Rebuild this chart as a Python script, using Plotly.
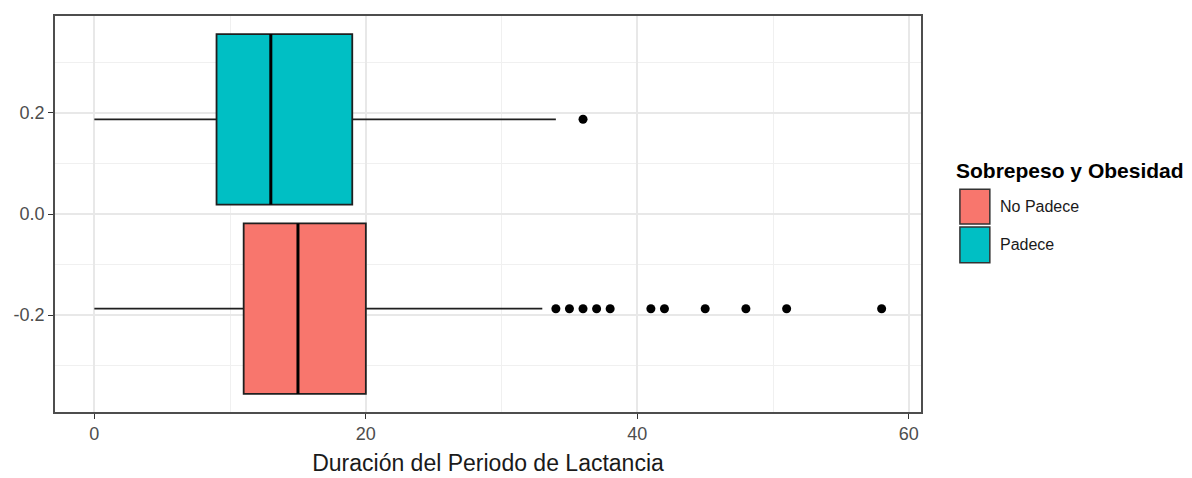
import plotly.graph_objects as go

# ---- data ----
groups = ["Padece", "No Padece"]
positions = [0.1875, -0.1875]
colors = ["#00BFC4", "#F8766D"]
lower_fence = [0, 0]
q1 = [9, 11]
median = [13, 15]
q3 = [19, 20]
upper_fence = [34, 33]
outliers_padece = [36]
outliers_no_padece = [34, 35, 36, 37, 38, 41, 42, 45, 48, 51, 58]
outliers = [outliers_padece, outliers_no_padece]
box_width = 0.3375

x_ticks = [0, 20, 40, 60]
x_minor = [10, 30, 50]
y_ticks = [-0.2, 0.0, 0.2]
y_tick_text = ["-0.2", "0.0", "0.2"]
y_minor = [-0.3, -0.1, 0.1, 0.3]

FONT = "Liberation Sans, Arial, sans-serif"
LINE = "#1f1f1f"

fig = go.Figure()
for i in range(2):
    fig.add_trace(go.Box(
        y=[positions[i]], orientation="h",
        q1=[q1[i]], median=[median[i]], q3=[q3[i]],
        lowerfence=[lower_fence[i]], upperfence=[upper_fence[i]],
        width=box_width, whiskerwidth=0,
        fillcolor=colors[i], line=dict(color=LINE, width=1.8),
        boxpoints=False, showlegend=False, name=groups[i], hoverinfo="skip",
    ))
    # thicker median line (ggplot style)
    fig.add_trace(go.Scatter(
        x=[median[i], median[i]],
        y=[positions[i] - box_width / 2, positions[i] + box_width / 2],
        mode="lines", line=dict(color="#000000", width=3),
        showlegend=False, hoverinfo="skip",
    ))
    fig.add_trace(go.Scatter(
        x=outliers[i], y=[positions[i]] * len(outliers[i]),
        mode="markers", marker=dict(color="#000000", size=9),
        showlegend=False, hoverinfo="skip",
    ))

# page geometry (figure is drawn 8px in from the page corner)
OFF = 8
L, R, T, B = 53, 921, 14, 412
W, H = 1184, 470


def px_x(p):
    return (p - L) / (R - L)


def px_y(p):
    return (B - p) / (B - T)


# manual legend (ggplot style)
legend_items = [("No Padece", "#F8766D", 188, 223), ("Padece", "#00BFC4", 226, 262)]
for label, col, y0, y1 in legend_items:
    fig.add_shape(type="rect", xref="paper", yref="paper",
                  x0=px_x(960), x1=px_x(990), y0=px_y(y1), y1=px_y(y0),
                  fillcolor=col, line=dict(color="#333333", width=1.5))
    fig.add_annotation(xref="paper", yref="paper", x=px_x(998), y=px_y((y0 + y1) / 2),
                       text=label, showarrow=False, xanchor="left", yanchor="middle",
                       font=dict(family=FONT, size=16, color="#1a1a1a"))
fig.add_annotation(xref="paper", yref="paper", x=px_x(954), y=px_y(169),
                   text="<b>Sobrepeso y Obesidad</b>", showarrow=False,
                   xanchor="left", yanchor="middle",
                   font=dict(family=FONT, size=21, color="#000000"))

fig.update_layout(
    width=W, height=H,
    margin=dict(l=L - OFF, r=W - (R - OFF), t=T - OFF, b=H - (B - OFF)),
    paper_bgcolor="white", plot_bgcolor="white",
    boxmode="overlay",
    font=dict(family=FONT),
)
fig.update_xaxes(
    range=[-2.9, 60.9], tickvals=x_ticks,
    showgrid=True, gridcolor="#E8E8E8", gridwidth=1.5,
    minor=dict(tickvals=x_minor, showgrid=True, gridcolor="#F0F0F0", gridwidth=1, ticks=""),
    zeroline=False, showline=True, mirror=True, linecolor="#4D4D4D", linewidth=1.5,
    ticks="outside", ticklen=5, tickcolor="#333333", tickwidth=1.2,
    tickfont=dict(family=FONT, size=18, color="#4D4D4D"),
    title=dict(text="Duración del Periodo de Lactancia",
               font=dict(family=FONT, size=23, color="#1a1a1a"), standoff=12),
)
fig.update_yaxes(
    range=[-0.392, 0.392], tickvals=y_ticks, ticktext=y_tick_text,
    showgrid=True, gridcolor="#E8E8E8", gridwidth=1.5,
    minor=dict(tickvals=y_minor, showgrid=True, gridcolor="#F0F0F0", gridwidth=1, ticks=""),
    zeroline=False, showline=True, mirror=True, linecolor="#4D4D4D", linewidth=1.5,
    ticks="outside", ticklen=5, tickcolor="#333333", tickwidth=1.2,
    tickfont=dict(family=FONT, size=18, color="#4D4D4D"),
)

fig.write_html("out.html")
